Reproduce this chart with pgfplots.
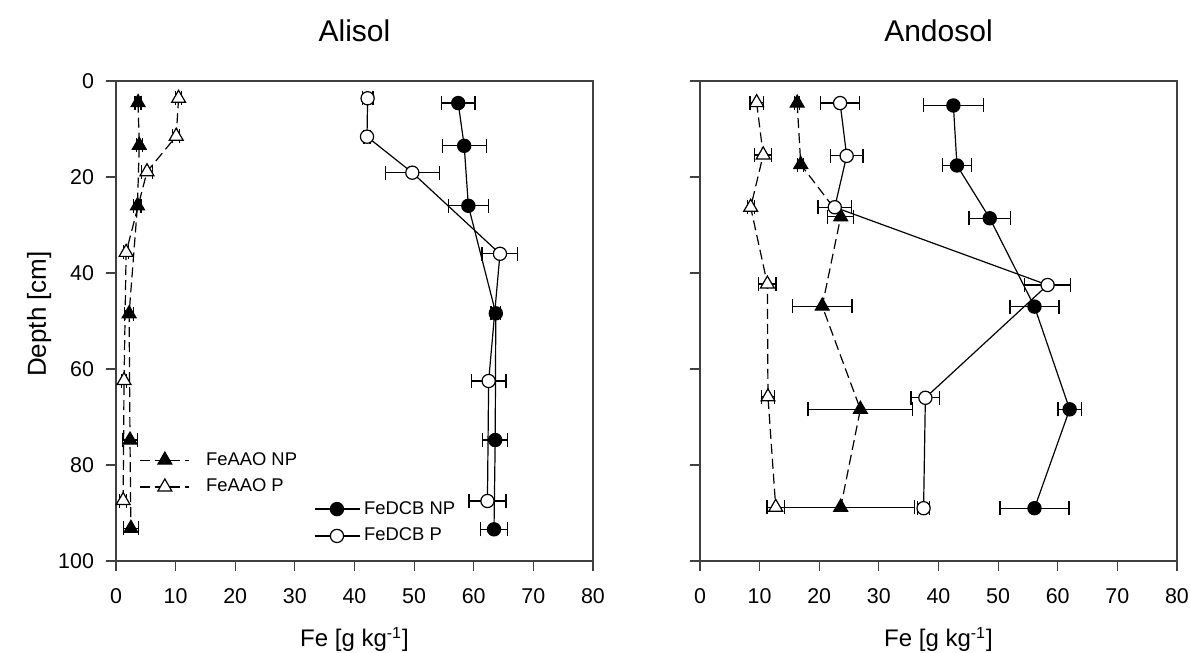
\documentclass[border=0pt]{standalone}
\usepackage{fontspec}
\setmainfont{Liberation Sans}
\usepackage{pgfplots}
\pgfplotsset{compat=1.18}
\usepackage{pgfplotstable}

% depth profiles: x = Fe, y = depth, e = error
\pgfplotstableread{
x y e
3.7 4.5 0.5
3.9 13.4 0.5
3.6 26.0 0.6
2.2 48.5 0.8
2.35 74.8 1.3
2.5 93.2 1.25
}\aliAAONP
\pgfplotstableread{
x y e
10.5 3.6 0.5
10.1 11.5 0.6
5.2 18.9 0.9
1.7 35.7 0.4
1.35 62.4 0.4
1.2 87.4 0.6
}\aliAAOP
\pgfplotstableread{
x y e
57.4 4.6 2.8
58.4 13.5 3.7
59.1 26.0 3.35
63.7 48.4 0.8
63.6 74.8 2.1
63.4 93.4 2.2
}\aliDCBNP
\pgfplotstableread{
x y e
42.2 3.6 0.9
42.1 11.6 0.5
49.7 19.1 4.5
64.4 36.0 3.0
62.5 62.5 2.9
62.3 87.5 3.1
}\aliDCBP
\pgfplotstableread{
x y e
16.3 4.6 0.4
16.9 17.4 0.5
23.6 28.3 2.2
20.5 46.9 5.0
26.9 68.4 8.8
23.6 88.8 12.4
}\andAAONP
\pgfplotstableread{
x y e
9.5 4.5 1.1
10.6 15.4 1.45
8.5 26.3 0.6
11.3 42.3 1.45
11.4 65.8 1.15
12.7 88.8 1.45
}\andAAOP
\pgfplotstableread{
x y e
42.5 5.1 5.0
43.1 17.6 2.4
48.6 28.6 3.5
56.1 47.0 4.1
62.0 68.4 1.95
56.1 89.0 5.8
}\andDCBNP
\pgfplotstableread{
x y e
23.5 4.6 3.3
24.6 15.6 2.75
22.6 26.3 2.8
58.3 42.5 3.9
37.8 66.0 2.4
37.5 89.0 1.0
}\andDCBP

\pgfplotsset{
  profile/.style={
    scale only axis, width=238.5pt, height=240pt,
    xmin=0, xmax=80, ymin=0, ymax=100, y dir=reverse,
    xtick={0,10,...,80}, ytick={0,20,...,100},
    axis line style={black!75, line width=0.6pt},
    tick style={black!75, line width=0.6pt},
    tick align=outside, major tick length=5pt,
    xtick pos=bottom, ytick pos=left,
    ticklabel style={font=\fontsize{10.7}{12}\selectfont},
    xticklabel style={yshift=-5pt},
    yticklabel style={xshift=-2.5pt},
    /pgf/number format/assume math mode=true,
    clip=false,
    legend style={draw=none, fill=none, font=\fontsize{9.2}{11}\selectfont,
      row sep=1.5pt, inner sep=1pt},
    legend cell align=left,
  },
  ser/.style={line width=0.6pt, black,
    error bars/x dir=both, error bars/x explicit,
    error bars/error mark=|,
    error bars/error bar style={solid, line width=0.6pt, black},
    error bars/error mark options={solid, mark size=3.5pt, line width=0.6pt, black}},
  aaonp/.style={ser, dash pattern=on 5pt off 2.5pt, mark=triangle*, mark size=4pt,
    mark options={solid, fill=black}},
  aaop/.style={ser, dash pattern=on 5pt off 2.5pt, mark=triangle*, mark size=4pt,
    mark options={solid, fill=white}},
  dcbnp/.style={ser, solid, mark=*, mark size=3.3pt, mark options={solid, fill=black}},
  dcbp/.style={ser, solid, mark=*, mark size=3.3pt, mark options={solid, fill=white}},
}

\begin{document}
\begin{tikzpicture}
\useasboundingbox (-58pt,-46pt) rectangle (537pt,280.5pt);

% Alisol
\begin{axis}[profile, at={(0pt,0pt)}, anchor=south west,
  legend style={at={(axis description cs:0.045,0.24)}, anchor=north west},
  legend image code/.code={%
    \draw[mark repeat=2,mark phase=2] plot coordinates {(0pt,0pt) (12.2pt,0pt) (24.5pt,0pt)};}]
  \addplot[aaonp] table[x=x, y=y, x error=e] {\aliAAONP};
  \addlegendentry{\hspace{6pt}FeAAO NP}
  \addplot[aaop] table[x=x, y=y, x error=e] {\aliAAOP};
  \addlegendentry{\hspace{6pt}FeAAO P}
\end{axis}
\begin{axis}[profile, hide axis, at={(0pt,0pt)}, anchor=south west,
  legend style={at={(axis description cs:0.41,0.138)}, anchor=north west},
  legend image code/.code={%
    \draw[mark repeat=2,mark phase=2] plot coordinates {(0pt,0pt) (11.2pt,0pt) (22.5pt,0pt)};}]
  \addplot[dcbnp] table[x=x, y=y, x error=e] {\aliDCBNP};
  \addlegendentry{FeDCB NP}
  \addplot[dcbp] table[x=x, y=y, x error=e] {\aliDCBP};
  \addlegendentry{FeDCB P}
\end{axis}

% Andosol
\begin{axis}[profile, at={(292pt,0pt)}, anchor=south west, yticklabels={}]
  \addplot[aaop] table[x=x, y=y, x error=e] {\andAAOP};
  \addplot[aaonp] table[x=x, y=y, x error=e] {\andAAONP};
  \addplot[dcbp] table[x=x, y=y, x error=e] {\andDCBP};
  \addplot[dcbnp] table[x=x, y=y, x error=e] {\andDCBNP};
\end{axis}

% titles and axis labels
\node[anchor=base, font=\fontsize{15}{18}\selectfont] at (119.25pt,259.5pt) {Alisol};
\node[anchor=base, font=\fontsize{15}{18}\selectfont] at (411.25pt,259.5pt) {Andosol};
\node[anchor=base, font=\fontsize{12}{15}\selectfont] at (119.25pt,-43pt) {Fe [g kg\textsuperscript{-1}]};
\node[anchor=base, font=\fontsize{12}{15}\selectfont] at (411.25pt,-43pt) {Fe [g kg\textsuperscript{-1}]};
\node[anchor=base, rotate=90, font=\fontsize{13}{16}\selectfont] at (-35pt,123.5pt) {Depth [cm]};
\end{tikzpicture}
\end{document}
